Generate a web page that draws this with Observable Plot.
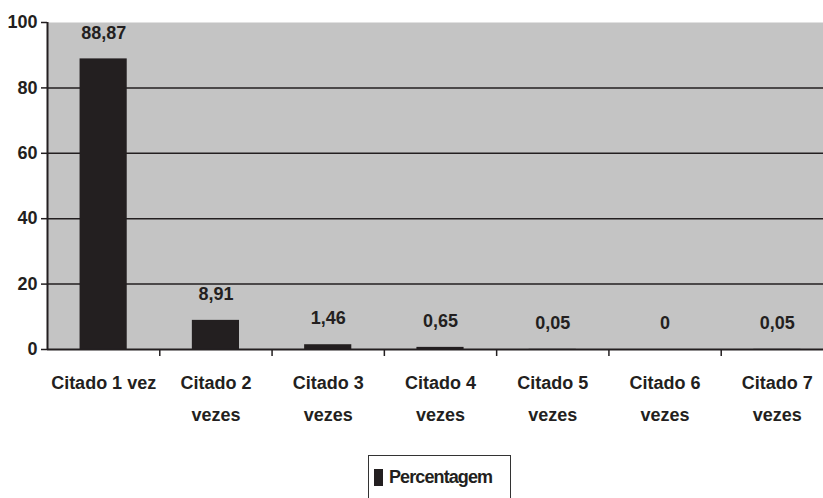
<!DOCTYPE html>
<html>
<head>
<meta charset="utf-8">
<script src="https://cdn.jsdelivr.net/npm/d3@7"></script>
<script src="https://cdn.jsdelivr.net/npm/@observablehq/plot@0.6"></script>
<style>
  body { margin: 0; background: #fff; font-family: "Liberation Sans", Arial, sans-serif; }
  #wrap { width: 823px; height: 445px; overflow: hidden; }
  #wrap svg { max-width: none !important; }
  #legend { margin-top: 10px; margin-left: 368px; width: 143px; height: 44px; border: 1.5px solid #333;
    box-sizing: border-box; display: flex; align-items: center; padding-left: 5px;
    font-weight: bold; font-size: 18px; letter-spacing: -0.9px; color: #231f20; }
  #legend .sw { width: 9px; height: 17px; background: #231f20; margin-right: 6px; }
</style>
</head>
<body>
<div id="wrap"></div>
<div id="legend"><span class="sw"></span><span>Percentagem</span></div>
<script>
const categories = ["Citado 1 vez", "Citado 2\nvezes", "Citado 3\nvezes", "Citado 4\nvezes", "Citado 5\nvezes", "Citado 6\nvezes", "Citado 7\nvezes"];
const values = [88.87, 8.91, 1.46, 0.65, 0.05, 0, 0.05];
const valueLabels = ["88,87", "8,91", "1,46", "0,65", "0,05", "0", "0,05"];
const yTicks = [0, 20, 40, 60, 80, 100];
const gridValues = [20, 40, 60, 80];

const data = categories.map((c, i) => ({ i: i + 1, cat: c, value: values[i], label: valueLabels[i] }));
const boundaries = d3.range(1.5, categories.length, 1);
const half = 0.21;
const ink = "#231f20";

const chart = Plot.plot({
  width: 833,
  height: 445,
  marginLeft: 47,
  marginRight: 0,
  marginTop: 22,
  marginBottom: 96,
  style: { fontFamily: "Liberation Sans, Arial, sans-serif", background: "transparent", maxWidth: "none" },
  x: { domain: [0.5, categories.length + 0.5], label: null },
  y: { domain: [0, 100], label: null },
  marks: [
    Plot.frame({ fill: "#c4c4c4", stroke: null }),
    Plot.ruleY(gridValues, { stroke: ink, strokeWidth: 1.5 }),
    Plot.rectY(data, { x1: d => d.i - half, x2: d => d.i + half, y: "value", fill: ink }),
    Plot.text(data, { x: "i", y: "value", text: "label", dy: -26, fontSize: 18, fontWeight: "bold", fill: ink, style: "letter-spacing:-0.8px" }),
    Plot.text(data, { x: "i", y: 0, text: "cat", dy: 17, lineAnchor: "top", lineHeight: 1.78, fontSize: 18, fontWeight: "bold", fill: ink, style: "letter-spacing:-1.2px" }),
    Plot.axisY({ ticks: yTicks, label: null, tickSize: 6, tickPadding: 4, fontSize: 18, fontWeight: "bold", color: ink, stroke: ink, strokeWidth: 1.5, style: "letter-spacing:-1.2px" }),
    Plot.axisX({ ticks: boundaries, label: null, tickFormat: () => "", tickSize: 7, stroke: ink, strokeWidth: 1.5 }),
    Plot.ruleY([0], { stroke: ink, strokeWidth: 2 }),
    Plot.ruleX([0.5], { stroke: ink, strokeWidth: 2 })
  ]
});
document.getElementById("wrap").appendChild(chart);
</script>
</body>
</html>
